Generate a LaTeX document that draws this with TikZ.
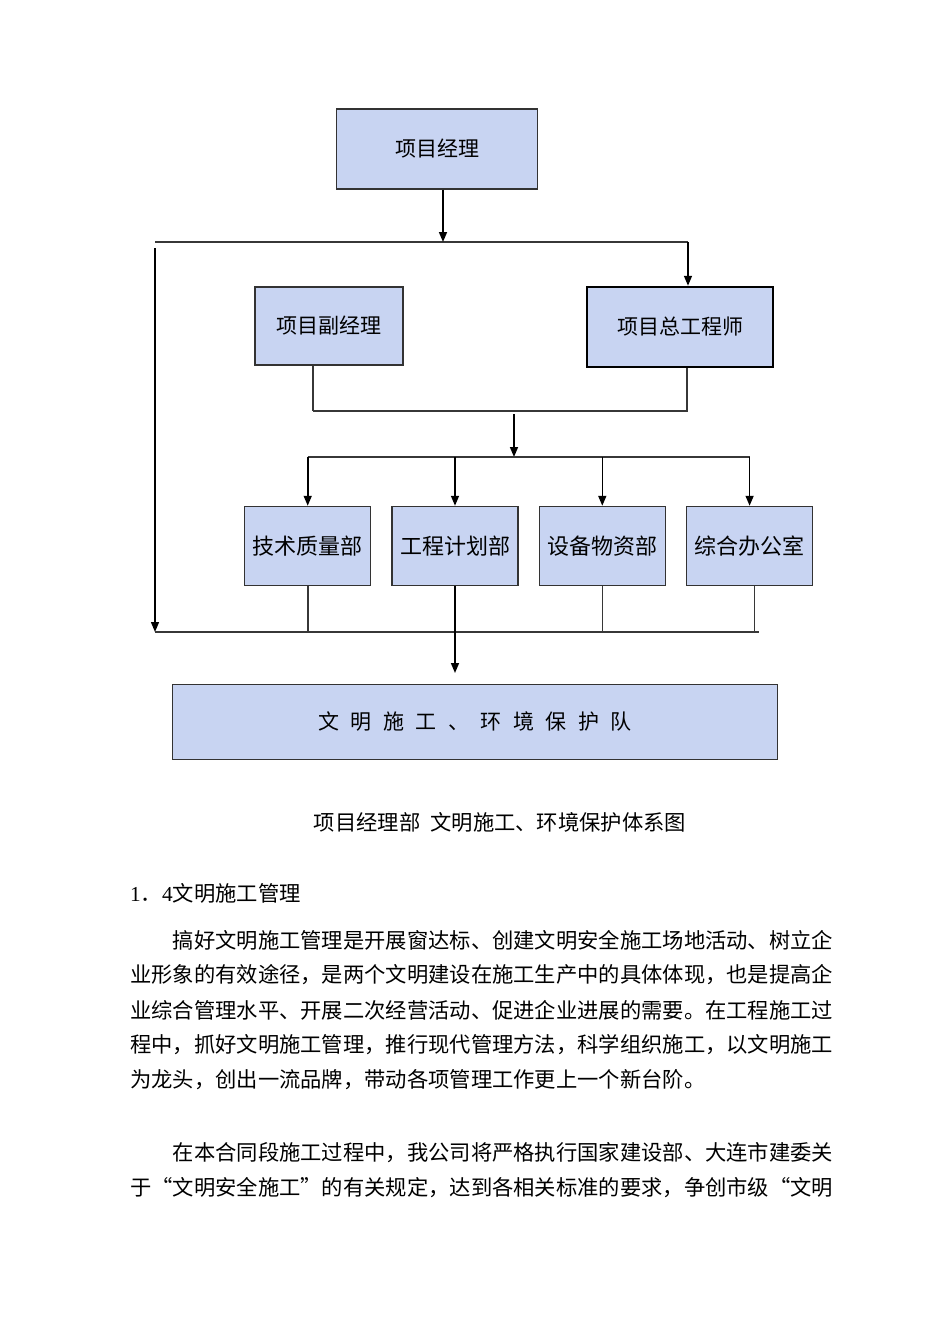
\documentclass[tikz,border=0pt]{standalone}
\usepackage{fontspec}
\setmainfont{Liberation Serif}
\newfontfamily\cjk{Noto Sans CJK SC}
\usetikzlibrary{arrows.meta}
\definecolor{boxfill}{RGB}{200,212,242}
\definecolor{linegray}{RGB}{55,55,55}
\newcommand\gap{\hspace{11.5pt}}

\begin{document}
\begin{tikzpicture}[x=1pt, y=-1pt, >={Triangle[length=10pt,width=8pt]},
    box/.style={draw=black!80, fill=boxfill, line width=1.2pt, inner sep=0pt,
      font=\cjk\fontsize{21}{21}\selectfont},
    bus/.style={draw=linegray, line width=1.3pt},
    feed/.style={->, line width=1.6pt},
    body/.style={anchor=west, inner sep=0pt, font=\cjk\fontsize{21.3}{21.3}\selectfont}]
        \fill[white] (0,0) rectangle (950,1344);
        \useasboundingbox (0,0) rectangle (950,1344);
        % boxes
        \node [box, minimum width=201pt, minimum height=80pt] (pm) at (437,149) {项目经理};
        \node [box, minimum width=148pt, minimum height=78pt] (dpm) at (329,326) {项目副经理};
        \node [box, line width=2.5pt, draw=black, minimum width=186pt, minimum height=80pt] (ce) at (680,327) {项目总工程师};
        \foreach \l [count=\i] in {技术质量部,工程计划部,设备物资部,综合办公室}
          \node [box, line width=1.5pt, minimum width=126pt, minimum height=79pt,
            font=\cjk\fontsize{22}{22}\selectfont] (dept-\i) at (307.7+147.3*\i-147.3,546) {\l};
        \node [box, line width=1.5pt, minimum width=605pt, minimum height=75pt] (team) at (475,722)
          {文\gap 明\gap 施\gap 工\gap 、\gap 环\gap 境\gap 保\gap 护\gap 队};
        % junctions
        \coordinate (busL) at (155,242);
        \coordinate (busR) at (688,242);
        \coordinate (sideTop) at (155,248);
        \coordinate (sideBot) at (155,632);
        \coordinate (botR) at (759,632);
        \coordinate (mergeY) at (0,411);
        \coordinate (mergeOut) at (514,414);
        \coordinate (fanY) at (0,457);
        \coordinate (teamIn) at (0,673);
        % connectors
        \draw [bus] (busL) -- (busR);
        \draw [feed] ([xshift=6pt]pm.south) -- ([xshift=6pt]pm.south |- busL);
        \draw [feed] (busR) -- (busR |- ce.north);
        \draw [feed, line width=1.3pt] (sideTop) -- (sideBot);
        \draw [bus] (sideBot) -- (botR);
        \draw [bus, line width=2pt] ([xshift=-16pt]dpm.south) -- ([xshift=-16pt]dpm.south |- mergeY);
        \draw [bus] ([xshift=-16pt]dpm.south |- mergeY) -- ([xshift=7pt]ce.south |- mergeY)
          -- ([xshift=7pt]ce.south);
        \draw [feed] (mergeOut) -- (mergeOut |- fanY);
        \draw [bus] (dept-1.north |- fanY) -- (dept-4.north |- fanY);
        \foreach \i in {1,...,4}
          \draw [feed] (dept-\i.north |- fanY) -- (dept-\i.north);
        \draw [bus, line width=2.2pt] (dept-1.south) -- (dept-1.south |- sideBot);
        \draw [feed] (dept-2.south) -- (dept-2.south |- teamIn);
        \draw [bus, line width=0.8pt] (dept-3.south) -- (dept-3.south |- sideBot);
        \draw [bus, line width=0.8pt] ([xshift=5pt]dept-4.south) -- ([xshift=5pt]dept-4.south |- sideBot);
        % caption and text
        \node [body, anchor=center] (caption) at (500,822) {项目经理部\hspace{10pt}文明施工、环境保护体系图};
        \node [body, font=\fontsize{21.3}{21.3}\selectfont] (sec) at (130,893) {1{\cjk ．}4{\cjk 文明施工管理}};
        \foreach \x/\y/\l [count=\i] in {
            172.6/940/{搞好文明施工管理是开展窗达标、创建文明安全施工场地活动、树立企},
            130/975/{业形象的有效途径，是两个文明建设在施工生产中的具体体现，也是提高企},
            130/1010/{业综合管理水平、开展二次经营活动、促进企业进展的需要。在工程施工过},
            130/1045/{程中，抓好文明施工管理，推行现代管理方法，科学组织施工，以文明施工},
            130/1080/{为龙头，创出一流品牌，带动各项管理工作更上一个新台阶。},
            172.6/1153/{在本合同段施工过程中，我公司将严格执行国家建设部、大连市建委关},
            130/1188/{于{\addfontfeatures{CharacterWidth=Full}“}文明安全施工{\addfontfeatures{CharacterWidth=Full}”}的有关规定，达到各相关标准的要求，争创市级{\addfontfeatures{CharacterWidth=Full}“}文明}}
          \node [body] (line-\i) at (\x,\y) {\l};
    \end{tikzpicture}
\end{document}
